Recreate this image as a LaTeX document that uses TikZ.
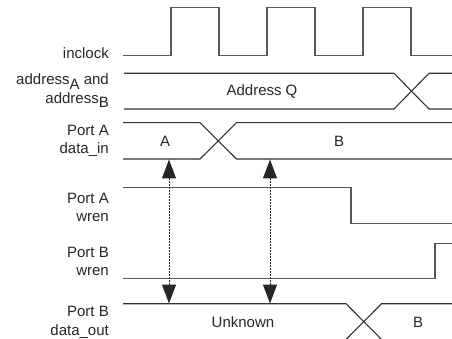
\documentclass[tikz,border=0pt]{standalone}
\usepackage{fontspec}
\setmainfont{Liberation Sans}
\usetikzlibrary{arrows.meta}
\begin{document}
\begin{tikzpicture}[x=1pt,y=-1pt,
  wave/.style={draw=black!65,line width=1.4pt,line join=miter},
  bus/.style={draw=black!80,line width=1.1pt},
  lbl/.style={anchor=east,align=right,inner sep=0pt,font=\fontsize{15}{18.5}\selectfont,text=black!85},
  txt/.style={inner sep=0pt,font=\fontsize{15}{16}\selectfont,text=black!85},
  timing/.style={draw=black!85,line width=1pt,dash pattern=on 1.5pt off 1.5pt,{Triangle[width=14pt,length=19pt]}-{Triangle[width=14pt,length=19pt]}}]
\useasboundingbox (0,0) rectangle (452,339);
% labels
\node[lbl] (lclk) at (109,53) {inclock};
\node[lbl] (laddr) at (109,91) {address\raisebox{-0.3em}{A} and\\address\raisebox{-0.3em}{B}};
\node[lbl] (ldin) at (109,141) {Port A\\data\_in};
\node[lbl] (lwa) at (109,207.5) {Port A\\wren};
\node[lbl] (lwb) at (109,261.5) {Port B\\wren};
\node[lbl] (ldout) at (109,322.5) {Port B\\data\_out};
% clock
\draw[wave] (123,55.7) -- (171,55.7) -- (171,7.5) -- (219,7.5) -- (219,55.7) -- (267,55.7) -- (267,7.5) -- (315,7.5) -- (315,55.7) -- (363,55.7) -- (363,7.5) -- (411,7.5) -- (411,55.7) -- (452,55.7);
% address bus
\draw[bus] (124,73.3) -- (394,73.3) -- (429,109) -- (452,109);
\draw[bus] (124,109) -- (394,109) -- (429,73.3) -- (452,73.3);
\node[txt] (aq) at (262,91) {Address Q};
% data_in bus
\draw[bus] (123,122.7) -- (200,122.7) -- (236.5,159) -- (452,159);
\draw[bus] (123,159) -- (200,159) -- (236.5,122.7) -- (452,122.7);
\node[txt] (da) at (165,141) {A};
\node[txt] (db) at (339,141) {B};
% Port A wren
\draw[wave] (123,187.3) -- (351,187.3) -- (351,223.3) -- (452,223.3);
% Port B wren
\draw[wave] (123,278.7) -- (435,278.7) -- (435,243.7) -- (452,243.7);
% data_out bus
\draw[bus] (123,303.7) -- (346,303.7) -- (381.5,339.5);
\draw[bus] (346,339.5) -- (381.5,303.7) -- (452,303.7);
\node[txt] (unk) at (243,322) {Unknown};
\node[txt] (ob) at (418,322) {B};
% timing arrows
\coordinate (t1a) at (169,159.5);
\coordinate (t1b) at (169,303.5);
\coordinate (t2a) at (270,159.5);
\coordinate (t2b) at (270,303.5);
\draw[timing] (t1a) -- (t1b);
\draw[timing] (t2a) -- (t2b);
\end{tikzpicture}
\end{document}
